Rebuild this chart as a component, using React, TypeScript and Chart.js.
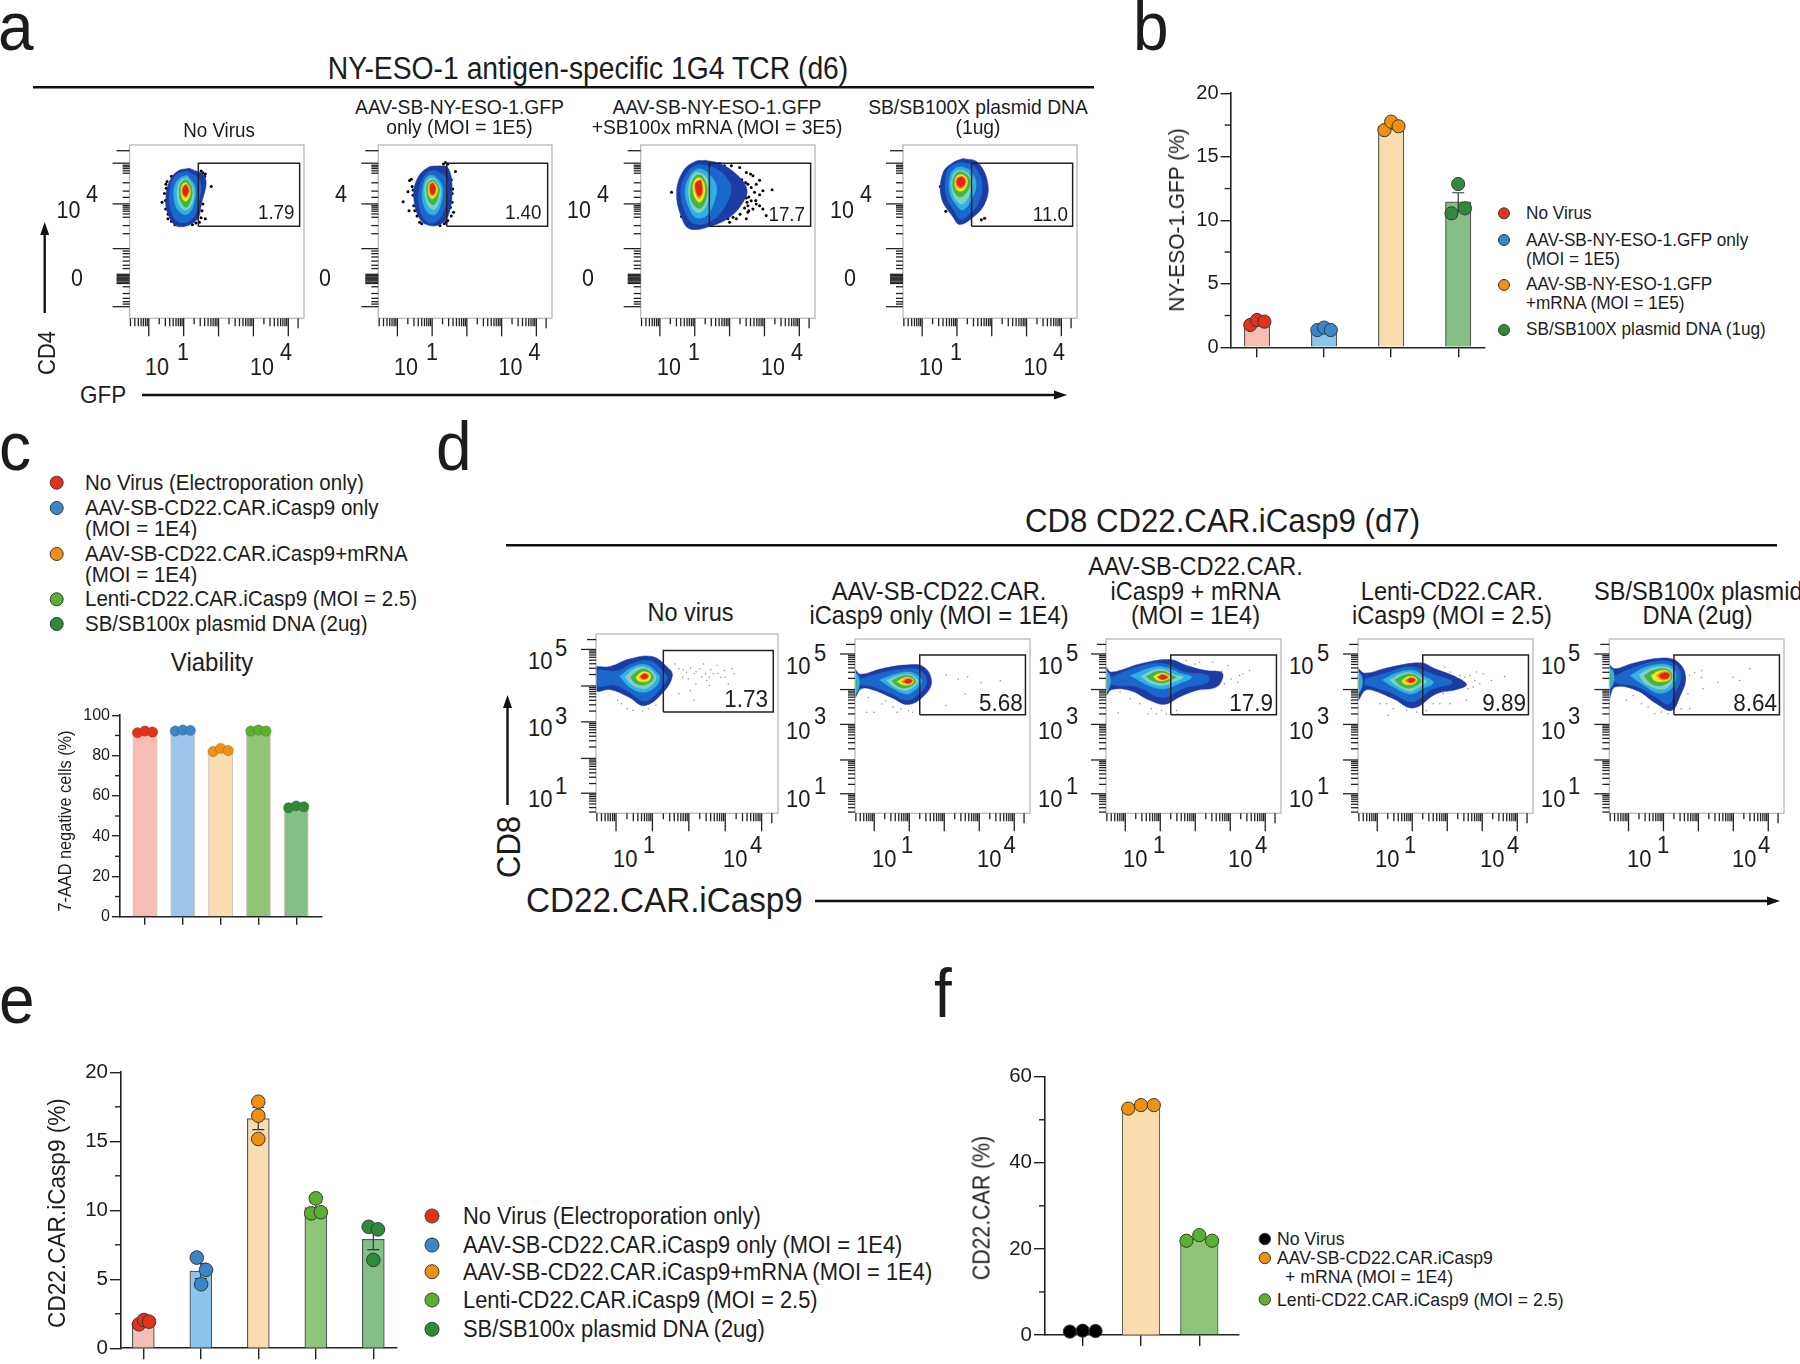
import React, { useEffect, useRef } from "react";
import { Chart, registerables } from "chart.js";
Chart.register(...registerables);

const FONT = '"Liberation Sans", Arial, sans-serif';
const INK = "#1c1c1c";

// ---------- flow-plot axis ticks (percent of the plot box) ----------
const xMajorTicks = [11, 31, 51, 71, 91];
const decadeOffsets = [-14, -10.5, -8, -6, -4.4, -3.1, -1.9, -0.9];
const xEndTick = [96.6];
const yMajorA = [89.5, 66, 40.2, 6.7];
const yMediumA = [96.7, 25.4, 24.7, 23.9, 23.3, 22.8, 22.2, 21.6, 20.8, 20.1];
const yMinorA = [88.3, 87.4, 86.4, 85.1, 83.7, 78.2, 73.4, 69.8, 65, 64.1, 63, 61.8, 60.2, 58.3, 53.5, 48.8, 38.8, 37.3, 35.4, 33, 30.6, 28.7, 18.2, 14.3, 11.5, 9.6, 8.2];
const yMajorD = [91.4, 71, 51, 30.6, 11.2];
const gateXA = [39.4, 97.5];
const gateXD = [37, 97.4];
const gateYA = [53.1, 89.5];
const gateYD = [56.5, 90.8];

const levelColors = ["#1d3ba4", "#1b68cc", "#2fb0e6", "#84d2bd", "#3fb54a", "#f7e917", "#f58a12", "#e4211c"];

// ---------- density outlines, outermost first (x,y pairs in percent of the plot) ----------
const contoursA1 = [
  [34.4,86.6,43.4,81.3,41.2,66,38.2,56.4,27.6,53,22,60.2,20.8,69.8,23,79.3,27.6,85],
  [33,85,40.5,79,39,65,35.5,57,28,55.5,23.5,63,23,73,26,82],
  [33,82.5,37.5,76,36.8,66,33,60,28,62,25.5,69,26,77,29,81],
  [33,81,36.5,75,36,67,32.5,62.5,29,64.5,27.2,71,28,77,30,80],
  [33,80,35.8,75,35,68,32.5,64,29.5,67,28.5,72,29,77,31,79.5],
  [32.5,78.5,34.8,74,34,69.5,32,67.5,30,70,29.5,74,30.5,77.5],
  [32.5,77.5,34.3,74,33.5,71,32,69.5,30.5,71,30,74,31,76.5],
  [32.5,77,33.7,74,33,71.5,32,70.5,30.8,72,30.5,74,31.3,76.2],
];
const contoursA2 = [
  [35.2,88,40,87,42.5,75.5,40.6,60.2,36.2,54.5,29.5,53.5,23.8,57.4,20.4,69.8,22.3,80.3,28.6,87],
  [33,85.5,39,81,39.5,72,37,60,32,55,27,56.5,23.5,65,24,76,28,84],
  [32,82.5,36.5,77,36.5,68,33,60,28.5,61,25.5,68,26,77,28.5,82],
  [32,81,35.5,76,35.5,69,32.5,63,29,64.5,27,70,27,77,29,80.5],
  [32,80,35,75.5,34.5,70,32,65.5,29.5,67,28,71.5,28,77,30,79.5],
  [31.5,79,34,75.5,33.5,71.5,31,69,29.2,71,28.8,75,29.5,78],
  [31.5,78.5,33.3,75.5,32.8,72,31,70.5,29.7,72,29.3,75.5,30,77.8],
  [31.5,78,32.8,75.5,32.3,72.5,31,71.5,30,73,29.8,76,30.3,77.5],
];
const contoursA3 = [
  [36.8,91.2,45.3,89.3,54.8,83.2,60.9,74.6,58.7,66.9,51,58.3,39.6,53,28.2,51.6,23.4,58.3,20.6,72.7,24.4,85,31,90.4],
  [36.5,88.5,44,86,50,80,52,74,48,64,40,56,31,54.5,26,60,23,73,26,83,31,88],
  [35.5,86,39.5,83,43.5,76,42,67,38,59.5,32,58,28,63,25.5,73,28,82,32,86],
  [35.5,83.5,38.5,80,39.5,75,38,66,34,61,30,63,27.5,72,28.5,80,31.5,84],
  [35,82.5,37.5,78,38,72,36,65,33,63.5,29.5,67,28.5,73,29.5,79,32,82.5],
  [34.5,81,36.5,77.5,36.5,71,34,67,31.5,69,30,74,30.5,78.5,32.5,81],
  [34.5,80,35.5,77,35.5,72,33.5,69,32,71,31,75,31.5,78.5],
  [34.5,79.5,35,76.5,35,72.5,33.5,70.5,32.3,72,31.5,75.5,32,78.5],
];
const contoursA4 = [
  [34.5,92.2,43,89.9,48.8,77.4,46.9,66,40.2,58.3,32.6,54.1,28.8,58.3,22,69.8,23,84,28.8,89.9],
  [34,90,41,87.5,45.5,77,43,66,38,60,33,57,29.5,62,25,70,25,84,29,88.5],
  [34,87.5,39,85,42,77,39,68,34.5,62.5,31,65,27,72,27,82,30,86.5],
  [34,85.5,38,83,40,77,37.5,70,34,66,30,69,28,75,28.5,82,31,85],
  [34,84.5,37.5,82,38.5,77.5,36,72,33,70,30,72,28.5,77,29.5,82,31.5,84.3],
  [34,83,36.5,81,37,78,35,74,32,73.5,30,76,30,80,31.5,82.5],
  [34,82,36,80.5,36,78,34.5,75.5,32,75,30.5,77,30.5,80,32,81.7],
  [34,81.5,35.5,80,35.5,78,34,76,32.5,76,31,78,31.3,80,32.5,81.3],
];
const contoursD1 = [
  [0,81.9,7.8,81.9,18.2,86,30.8,87.4,39.2,81.5,42,76.9,37,67.6,26.6,60,18,64.8,7.8,69,0,68.5],
  [1,80,12,79.5,20,83.5,30,85,37,79,39,75,34,68,27,62.5,19,67,10,71.5,1,71],
  [13,76.5,20,81.5,27,83,33,79,35,75,32,70,26,67.5,19,70],
  [16,76,21,80.5,27,81.5,32,78,33,75,30,71,26,69.5,20,71.5],
  [19,76,23,79.5,27,80.5,31,77.5,31.5,75,29,72.5,25,71.5,21,73],
  [22,76,25,78.7,28.5,78.5,30,76.5,29,74,26,73.3,23,74],
  [23.8,76.3,26,78,28.5,77.7,29,76,27,74.6,24.8,74.8],
  [24.5,76.4,26.5,77.7,28.3,77,28.2,75.7,26,75],
];
const contoursD2 = [
  [0,82.7,3.3,79.8,15.3,83,30.6,85.2,39.3,84,43.7,76,40.4,68.4,30.6,62.4,20.7,66.5,8.7,71.3,3.3,71.3,0,66.5],
  [3,77,15,80.5,30,83,37,82,41,76,38,70,30,65,20,69,10,72.8,3,74],
  [14,76.5,22,79.5,31,81,37,78,38,75,34,70.5,29,68.5,21,72],
  [18,76.3,25,79,31,79.8,35,77.5,36,75,32,71.5,28,70.5,22,72.8],
  [21,76,26,78.5,31,79,34,77,34.5,75,31,72.5,27,72,23.5,73.5],
  [24,75.5,28,77.7,31.5,77.8,33.5,76,32,74,28,73.6],
  [26.5,75.5,29,77.3,32,77.2,33,75.7,31,74.3,28,74.4],
  [28,75.6,30,77,32.3,76.5,32.3,75.3,30,74.6],
];
const contoursD3 = [
  [0,83.8,3.2,81,19.4,85.7,36.4,88.2,46,84.8,57.3,81.9,65.8,81,66.8,78,63,72.4,51.6,70.5,42,66.7,33.6,62.5,25,64.8,13.7,70.5,3.2,71,0,67.6],
  [3,78,15,83,32,86,45,81,58,79,58,75,45,72,32,66.5,18,72.5,3,74],
  [14,79,24,83,33,84,42,80.5,49,78,42,74.5,33,71.5,24,73.5],
  [20,78.5,27,82,33,82.5,39,79.5,44,78,39,75.5,33,73.5,26,74.5],
  [23,78.5,28,81,33,81.5,37,79.5,40,78,37,76.5,33,74.8,27,75.8],
  [27,78.3,30,80,33,80.3,36,79,37,78,35.5,77,32,76,29,76.6],
  [29,78.2,32,79.6,35,79,36,78,34,77,31,76.8],
  [29.8,78.1,32,79.4,34.8,78.5,34.8,77.6,32,76.9],
];
const contoursD4 = [
  [0,83.2,4,80.4,18.3,83.8,36.3,86.3,44,82.9,54.3,79,62,73.9,56.3,71,44.9,68.6,31.6,60.4,20.2,65.7,8.7,70.5,4,70.5,0,65],
  [4,77,16,80.5,30,84,42,80,54,75,42,71,31,64,19,69,8,72.7,4,74],
  [14,76.5,22,80.5,31,82,38,78.5,43,75,37,71.5,30,68.5,21,72],
  [18,76.5,25,80,31,80.5,36,78,39,75.3,34,72,30,70,23,72.8],
  [21,76.5,26,79.3,31,79.8,35,77.5,36,75.5,33,73,29,71.8,24,73.5],
  [25,76,28,78.2,31.5,78.5,33.7,76.8,32,74.5,29,73.8,26,74.5],
  [26.7,76.3,29.5,77.7,32.5,77.5,33,76,31,74.8,28,75],
  [28,76.3,30.3,77.5,32.5,76.8,32,75.5,29.5,75.2],
];
const contoursD5 = [
  [0,85.3,3.2,82.9,13.7,86.1,30.8,89.1,39.4,86.7,43.7,78.1,40.3,66.7,35.6,59,27,62.9,15.6,70.5,3.2,72.4,0,65.7],
  [3.5,79,15,84,30,87.5,38,85,41,78,37,68,34,62.5,27,66.5,15,73,3.5,75],
  [12,79,20,83.5,31,85.5,37,83,38,77,35,71,28,69,19,74],
  [17,79.5,23,83,32,84,36,82,36.5,77,33,72,27,71.5,20,75],
  [20,79,25,82,32,83,35.5,80.5,35.5,77,31,73.5,26,73.5,22,76],
  [24,79,28,81.5,33,81.8,35,79.5,34,76.5,29,75.5,25.5,76.5],
  [27,79,30,81,34,81,34.8,78.8,33,76.8,29.5,76.7],
  [28.5,79,31,80.5,34,80,34,78,31.5,77.2,29.5,77.7],
];
// small lobes at the left edge of the d plots: [level, outline]
const tailD2: any[] = [[2,[0,81,2.2,78,2.2,72,0,68.5]],[4,[0,78,1,76,1,73,0,71]]];
const tailD3: any[] = [[2,[0,82,2.2,79,2.2,73,0,69.5]],[4,[0,79,1,77,1,74,0,72]]];
const tailD4: any[] = [[2,[0,81.5,2.2,78.5,2.2,72.5,0,69]],[4,[0,78.5,1,76.5,1,73.5,0,71.5]]];
const tailD5: any[] = [[2,[0,84,2.4,81,2.4,75,0,71.5]],[4,[0,81,1.2,79,1.2,76,0,74]]];

// ---------- single events outside the density outlines ----------
const eventsA1 = [46.8,76.1,43.4,57.4,40,55.4,22,57.4,18.6,66.9,20.8,77.4,43.4,83.2,41,85,22,60,20.7,63,20.5,68,20,72,21,75,21.5,79,24,82,42,84,43,82,42,79,42,66,41.5,62,41,58,24,56,26,54,38,55,36,54];
const eventsA2 = [14.3,67.3,17.7,62.1,17.1,73,19,80.3,18,79.5,20,74,20.4,65,22.3,59,23.8,55.4,38.6,89.9,37.5,89,40,89,44.4,84.7,42.9,74.6,42.5,67,43.3,61.2,42,59,40,56.4,39,55.5,38,54.5,35.5,53.5,25,54.5,19.5,76,20,71,21,62,42,80,42.5,72,41.5,64];
const eventsA3 = [17.7,72.7,45.3,89.3,52,88,56.8,87,60.6,84.1,63,83.2,64.4,82.2,68.2,79.7,60.2,78.4,61.5,77.4,66.3,77.4,63.4,75.5,65.3,72.7,70.1,73.6,75.4,74.2,68.2,71.3,60.6,69.4,63.4,67.9,66.3,66,61.5,65,59.6,63.7,64.4,63.1,68.2,65,70.1,63.1,72,59.3,61.5,61.2,53,58.3,54.9,57.4,50,57.4,60.6,57.4,51,55.4,23.4,58.7,62,70,61,67,58,80,50,86,48,88,62,62,57,60,66,68];
const eventsA4 = [24.6,61.8,45,56.8,46.9,57.8,21.5,76];
const eventsD1 = [43.4,83.3,45.5,80.6,49.7,78.7,53.9,77.8,57,80.6,60.2,77.8,62.3,75.9,66.5,82.4,70.6,79.6,74.8,80.6,75.9,77.8,45.5,66.7,51.8,68.5,53.9,63,59.1,83.3,64.4,77.8,68.6,75.9,72.7,72.2,62.3,71.3,54.9,72.2,47.6,75.9,50.7,75,14,61.1,17.2,58.3,20.3,57.4,25.6,57,28.7,58.3,11.9,63,32.9,60.2,55,79,58,76,63,80,67,78,71,76,48,80,52,81,61,74];
const eventsD2 = [52,79.3,59,77,64.4,78.3,72,75,83,76,52,61.8,63,68.4,6.6,58,10.9,58,15.3,62.7,21.8,60.8,26.2,59.9,30.6,58.9,32.8,58,7.6,66.5,17.5,64.6,24,58];
const eventsD3 = [69.6,84.8,71.5,77.1,75.3,75.2,78.2,80,82,81.9,66,81.5,67.7,74.3,76.3,79,61,86.7,53.5,86.7,46,87.6,50.7,85.7,7,57.5,24,57,26,60,28.8,57,31.7,59,34.5,57,40.2,59,13.7,65.7,8,69.5,19.4,62.9,41,57];
const eventsD4 = [49.6,83.8,52.5,81,58.2,79,61,78,63.9,79,66.7,76.2,71.5,80,76.2,76.2,83.8,78.5,65.8,72.4,62.9,71.4,67.7,81,69.6,74.3,48.7,68.6,52.5,62.9,62,64.8,46.8,62.9,12.5,62.9,17.3,56.2,20.2,60,27.8,59,33.5,58.1,39.2,59,43,62.9,16.3,62.9];
const eventsD5 = [46,79,48.9,80.6,52.7,81.9,52.7,77.9,53.6,71.4,62.2,75.2,70.8,78.1,74.6,76.2,80.3,82.9,46,60,41.2,60,45,68.6,9.9,64.8,18.4,62.9,26,57.1,29.8,58.1,33.7,57.1,22.2,61,13.7,67.6];

// ---------- plot boxes: left, top, right, bottom ----------
const boxesA = [[129.6,143.3,304.4,318.3],[378.3,143.3,552.6,318.3],[640.7,143.3,815.7,318.3],[903,143.3,1078,318.3]];
const boxesD = [[596,632.5,778.5,813.3],[855,637.5,1030.3,813.3],[1106,637.5,1281.7,813.3],[1358,637.5,1533.3,813.3],[1609.3,637.5,1784.7,813.3]];
const contoursAll = [contoursA1, contoursA2, contoursA3, contoursA4];
const contoursDAll = [contoursD1, contoursD2, contoursD3, contoursD4, contoursD5];
const eventsAAll = [eventsA1, eventsA2, eventsA3, eventsA4];
const eventsDAll = [eventsD1, eventsD2, eventsD3, eventsD4, eventsD5];
const tailsDAll: any[][] = [[], tailD2, tailD3, tailD4, tailD5];

// ---------- bar panels ----------
const RED = "#e5311b", BLUE = "#3b86c9", ORANGE = "#f0900f", LIME = "#5bb02f", DARK = "#2f8a3a", BLACK = "#000000";
const PINK_BAR = "#f5bdb3", BLUE_BAR = "#8cc5ec", PEACH_BAR = "#f9dcb0", LIME_BAR = "#8dc678", DARK_BAR = "#84bf86", GREEN_BAR_B = "#85bf84";

const bMeans = [1.93, 1.4, 17.4, 11.45];
const bSem = [0.11, 0.1, 0.2, 0.72];
const bDots = [[1.76, 2.15, 2.02], [1.36, 1.55, 1.36], [17.1, 17.77, 17.4], [12.86, 10.55, 10.94]];
const bOffsets = [[-0.1, 0, 0.11], [-0.1, 0, 0.1], [-0.1, 0, 0.11], [0, -0.1, 0.1]];

const cMeans = [91.8, 92.5, 82.8, 92.4, 54.6];
const cDots = [[91.4, 92.2, 91.7], [92.2, 92.7, 92.5], [82, 83.6, 82.5], [92.2, 92.7, 92.2], [54.1, 55, 54.6]];
const cOffsets = [[-0.2, 0, 0.2], [-0.2, 0, 0.2], [-0.2, 0, 0.2], [-0.2, 0, 0.2], [-0.2, 0, 0.2]];

const eMeans = [1.8, 5.6, 16.65, 10.2, 7.9];
const eSem = [0.1, 0.55, 0.8, 0.35, 0.75];
const eDots = [[1.74, 2.05, 1.93], [6.57, 5.68, 4.64], [17.87, 16.86, 15.17], [10.87, 9.78, 9.86], [8.8, 8.62, 6.4]];
const eOffsets = [[-0.075, 0.012, 0.1], [-0.07, 0.09, 0.006], [0, 0, 0], [0, -0.08, 0.087], [-0.08, 0.08, 0]];

const fMeans = [0.9, 53, 22.3];
const fDots = [[0.8, 1, 0.93], [52.6, 53.4, 53.4], [21.9, 23.2, 21.9]];
const fOffsets = [[-0.22, 0, 0.22], [-0.22, 0, 0.22], [-0.22, 0, 0.22]];

const barPanels: any[] = [
  { means: bMeans, sem: bSem, dots: bDots, off: bOffsets, left: 1230.6, right: 1485, top: 93.3, bottom: 347.3, cat1: 1257, step: 67.07, barW: 25.5, max: 20, major: 5, minor: [2.5, 7.5, 12.5, 17.5], r: 6.6, fs: 20, tick: 10, minorLen: 6,
    fill: [PINK_BAR, BLUE_BAR, PEACH_BAR, GREEN_BAR_B], dot: [RED, BLUE, ORANGE, DARK], barBorder: "#555", dotBorder: "#3a3a3a", dotW: 1 },
  { means: cMeans, dots: cDots, off: cOffsets, left: 120, right: 321.7, top: 715.3, bottom: 916.7, cat1: 145, step: 37.8, barW: 24.3, max: 100, major: 20, minor: [10, 30, 50, 70, 90], r: 5.2, fs: 16, tick: 8, minorLen: 5,
    fill: [PINK_BAR, "#9cc6ea", PEACH_BAR, "#90c577", DARK_BAR], dot: [RED, BLUE, ORANGE, LIME, DARK], barBorder: "#cfc9c0", dotBorder: "rgba(60,60,60,0.35)", dotW: 0.7 },
  { means: eMeans, sem: eSem, dots: eDots, off: eOffsets, left: 121, right: 396.7, top: 1072.3, bottom: 1348.3, cat1: 143.3, step: 57.5, barW: 22, max: 20, major: 5, minor: [2.5, 7.5, 12.5, 17.5], r: 6.8, fs: 20.5, tick: 11, minorLen: 6,
    fill: [PINK_BAR, BLUE_BAR, PEACH_BAR, LIME_BAR, DARK_BAR], dot: [RED, BLUE, ORANGE, LIME, DARK], barBorder: "#555", dotBorder: "#3a3a3a", dotW: 1 },
  { means: fMeans, dots: fDots, off: fOffsets, left: 1045, right: 1238.3, top: 1076.7, bottom: 1335, cat1: 1082.7, step: 58.3, barW: 37.7, max: 60, major: 20, minor: [10, 30, 50], r: 6.6, fs: 20.5, tick: 11, minorLen: 6,
    fill: ["#000000", PEACH_BAR, LIME_BAR], dot: [BLACK, ORANGE, LIME], barBorder: "#666", dotBorder: "#3a3a3a", dotW: 1 },
];

// ---------- text ----------
type L = [number, number, string, number, string?, string?];
// x, y-centre, text, size, align, colour
const labels: L[] = [
  [-2, 27, "a", 64], [1133, 27, "b", 64], [-1, 447, "c", 64], [436, 447, "d", 64], [-1, 1000, "e", 64], [934, 994, "f", 64],
  [588, 68, "NY-ESO-1 antigen-specific 1G4 TCR (d6)", 28.3, "c"],
  [219, 131, "No Virus", 18.8, "c"],
  [459.5, 107.7, "AAV-SB-NY-ESO-1.GFP", 19.3, "c"], [459.5, 127.7, "only (MOI = 1E5)", 19.3, "c"],
  [717, 107.7, "AAV-SB-NY-ESO-1.GFP", 19.3, "c"], [717, 127.7, "+SB100x mRNA (MOI = 3E5)", 19.3, "c"],
  [978, 107.7, "SB/SB100X plasmid DNA", 19.3, "c"], [978, 127.7, "(1ug)", 19.3, "c"],
  [294.5, 213.3, "1.79", 18.8, "r"], [541.5, 213.3, "1.40", 18.8, "r"], [805, 214.5, "17.7", 18.8, "r"], [1068, 214.5, "11.0", 18.8, "r"],
  [80, 395, "GFP", 22.5],
  [56.5, 210, "10", 21.5], [86, 194, "4", 21.5], [71, 278, "0", 21.5],
  [335, 194, "4", 21.5], [319, 278, "0", 21.5],
  [567, 210, "10", 21.5], [597, 194, "4", 21.5], [582, 278, "0", 21.5],
  [830, 210, "10", 21.5], [860, 194, "4", 21.5], [844, 278, "0", 21.5],
  [1222.5, 521, "CD8 CD22.CAR.iCasp9 (d7)", 31.2, "c"],
  [690.5, 612.7, "No virus", 23.5, "c"],
  [939, 591.7, "AAV-SB-CD22.CAR.", 23.6, "c"], [939, 616, "iCasp9 only (MOI = 1E4)", 23.6, "c"],
  [1195.5, 566.7, "AAV-SB-CD22.CAR.", 23.6, "c"], [1195.5, 591.7, "iCasp9 + mRNA", 23.6, "c"], [1195.5, 616, "(MOI = 1E4)", 23.6, "c"],
  [1452, 591.7, "Lenti-CD22.CAR.", 23.6, "c"], [1452, 616, "iCasp9 (MOI = 2.5)", 23.6, "c"],
  [1594, 591.7, "SB/SB100x plasmid", 23.6], [1697.5, 616, "DNA (2ug)", 23.6, "c"],
  [768, 699, "1.73", 22.5, "r"], [1022.7, 703, "5.68", 22.5, "r"], [1273, 703, "17.9", 22.5, "r"], [1526, 703, "9.89", 22.5, "r"], [1777, 703, "8.64", 22.5, "r"],
  [526, 900, "CD22.CAR.iCasp9", 33.2],
  [212, 661.7, "Viability", 24, "c"],
  // legend b
  [1526, 214, "No Virus", 17.2], [1526, 240.7, "AAV-SB-NY-ESO-1.GFP only", 17.2], [1526, 259.7, "(MOI = 1E5)", 17.2], [1526, 284.7, "AAV-SB-NY-ESO-1.GFP", 17.2], [1526, 303.7, "+mRNA (MOI = 1E5)", 17.2], [1526, 330, "SB/SB100X plasmid DNA (1ug)", 17.2],
  // legend c
  [85, 481.7, "No Virus (Electroporation only)", 20.5], [85, 507, "AAV-SB-CD22.CAR.iCasp9 only", 20.5], [85, 527.7, "(MOI = 1E4)", 20.5], [85, 553, "AAV-SB-CD22.CAR.iCasp9+mRNA", 20.5], [85, 573.7, "(MOI = 1E4)", 20.5], [85, 598.3, "Lenti-CD22.CAR.iCasp9 (MOI = 2.5)", 20.5], [85, 623, "SB/SB100x plasmid DNA (2ug)", 20.5],
  // legend e
  [463, 1216, "No Virus (Electroporation only)", 21.9], [463, 1244.5, "AAV-SB-CD22.CAR.iCasp9 only (MOI = 1E4)", 21.9], [463, 1271.2, "AAV-SB-CD22.CAR.iCasp9+mRNA (MOI = 1E4)", 21.9], [463, 1299.5, "Lenti-CD22.CAR.iCasp9 (MOI = 2.5)", 21.9], [463, 1328.5, "SB/SB100x plasmid DNA (2ug)", 21.9],
  // legend f
  [1277, 1239, "No Virus", 17.7], [1277, 1258.3, "AAV-SB-CD22.CAR.iCasp9", 17.7], [1285, 1276.7, "+ mRNA (MOI = 1E4)", 17.7], [1277, 1300, "Lenti-CD22.CAR.iCasp9 (MOI = 2.5)", 17.7],
];
// x, y-centre, text, size
const rotated: [number, number, string, number][] = [
  [46.6, 353, "CD4", 22], [1176, 220, "NY-ESO-1.GFP (%)", 20.9], [65, 821, "7-AAD negative cells (%)", 16.3],
  [508.7, 846.7, "CD8", 31], [56.7, 1212.5, "CD22.CAR.iCasp9 (%)", 22.6], [981.7, 1207.5, "CD22.CAR (%)", 21.3],
];
// x-axis decade labels: "10" left, superscript left, superscript
const xDecadesA = [[145, 177, "1"], [250, 280, "4"], [394, 426, "1"], [498.5, 528.5, "4"], [657, 688, "1"], [761, 791, "4"], [919, 950, "1"], [1023.5, 1053, "4"]];
const xDecadesD = [[613, 643, "1"], [723, 750, "4"], [872, 901, "1"], [977, 1003.5, "4"], [1123, 1153, "1"], [1228, 1255, "4"], [1375, 1404, "1"], [1480, 1507, "4"], [1627, 1657, "1"], [1732, 1758, "4"]];
// y-axis decade labels of panel d: "10" left, superscript left
const yDecadesD = [[528, 555], [786, 814], [1038, 1066], [1289, 1317], [1541, 1568]];
const yRowsD = [[666, 653, "5"], [731, 716, "3"], [799, 786, "1"]];
// legend markers: x, y, r, colour
const legendDots: [number, number, number, string][] = [
  [1504, 213.3, 5.5, RED], [1504, 240, 5.5, BLUE], [1504, 285, 5.5, ORANGE], [1504, 330, 5.5, DARK],
  [56.7, 482.7, 6.5, RED], [56.7, 508, 6.5, BLUE], [56.7, 554, 6.5, ORANGE], [56.7, 599.3, 6.5, LIME], [56.7, 624, 6.5, DARK],
  [432, 1216, 7, RED], [432, 1245, 7, BLUE], [432, 1271.7, 7, ORANGE], [432, 1300, 7, LIME], [432, 1329.3, 7, DARK],
  [1264.8, 1239, 5.7, BLACK], [1264.8, 1258, 5.7, ORANGE], [1264.8, 1299.5, 5.7, LIME],
];

const pairs = (flat: number[]) => {
  const out: { x: number; y: number }[] = [];
  for (let i = 0; i < flat.length; i += 2) out.push({ x: flat[i], y: flat[i + 1] });
  return out;
};
const closed = (flat: number[]) => {
  const p = pairs(flat);
  p.push({ ...p[0] });
  return p;
};

function makeFlow(canvas: HTMLCanvasElement, box: number[], contours: number[][], tails: any[], events: number[], gateX: number[], gateY: number[], kind: "a" | "d") {
  const padL = box[0] - Math.floor(box[0] - 24);
  const padT = box[1] - Math.floor(box[1] - 2);
  const ds: any[] = [];
  const dotStyle = kind === "a" ? { r: 1.5, c: "#000" } : { r: 0.75, c: "#8a8a8a" };
  ds.push({ data: pairs(events), showLine: false, pointRadius: dotStyle.r, pointBackgroundColor: dotStyle.c, pointBorderWidth: 0 });
  contours.forEach((c, i) => ds.push({ data: closed(c), showLine: true, fill: "shape", tension: 0.4, backgroundColor: levelColors[i], borderColor: levelColors[i], borderWidth: 0.5, pointRadius: 0 }));
  tails.forEach((t) => ds.push({ data: closed(t[1]), showLine: true, fill: "shape", tension: 0.4, backgroundColor: levelColors[t[0]], borderColor: levelColors[t[0]], borderWidth: 0.5, pointRadius: 0 }));
  ds.push({
    data: [{ x: gateX[0], y: gateY[0] }, { x: gateX[1], y: gateY[0] }, { x: gateX[1], y: gateY[1] }, { x: gateX[0], y: gateY[1] }, { x: gateX[0], y: gateY[0] }],
    showLine: true, fill: false, tension: 0, borderColor: "#222", borderWidth: 1.5, pointRadius: 0,
  });
  ds.forEach((d, i) => (d.order = -i));
  const axisPlugin = {
    id: "flowAxes",
    afterDatasetsDraw(chart: any) {
      const { ctx, chartArea: a, scales } = chart;
      ctx.save();
      ctx.strokeStyle = "#b9b9b9";
      ctx.lineWidth = 1.3;
      ctx.strokeRect(a.left, a.top, a.right - a.left, a.bottom - a.top);
      ctx.strokeStyle = "#222";
      ctx.lineWidth = 1.3;
      const xt = (v: number, l: number) => {
        if (v < 0) return;
        const p = scales.x.getPixelForValue(v);
        ctx.beginPath(); ctx.moveTo(p, a.bottom); ctx.lineTo(p, a.bottom + l); ctx.stroke();
      };
      const yt = (v: number, l: number) => {
        if (v < 0) return;
        const p = scales.y.getPixelForValue(v);
        ctx.beginPath(); ctx.moveTo(a.left, p); ctx.lineTo(a.left - l, p); ctx.stroke();
      };
      xMajorTicks.forEach((m) => { xt(m, 18); decadeOffsets.forEach((o, i) => xt(m + o, i === 0 ? 6 : 8)); });
      xEndTick.forEach((m) => xt(m, 10));
      if (kind === "a") {
        yMajorA.forEach((m) => yt(m, 17));
        yMediumA.forEach((m) => yt(m, 13));
        yMinorA.forEach((m) => yt(m, 7));
      } else {
        yMajorD.forEach((m) => { yt(m, 15); decadeOffsets.forEach((o) => yt(m + o, 7)); });
        yt(96.9, 9);
      }
      ctx.restore();
    },
  };
  return new Chart(canvas, {
    type: "scatter",
    data: { datasets: ds },
    options: {
      responsive: false, animation: false, events: [],
      layout: { padding: { left: padL, top: padT, right: canvas.width - padL - (box[2] - box[0]), bottom: canvas.height - padT - (box[3] - box[1]) } },
      plugins: { legend: { display: false }, tooltip: { enabled: false } },
      scales: { x: { type: "linear", min: 0, max: 100, display: false }, y: { type: "linear", min: 0, max: 100, display: false } },
    },
    plugins: [axisPlugin],
  } as any);
}

function makeBar(canvas: HTMLCanvasElement, p: any, originX: number, originY: number) {
  const axisW = p.left - originX;
  const padT = p.top - originY;
  let xHeight = canvas.height - padT - (p.bottom - p.top);
  const barData = p.means.map((m: number, i: number) => ({ x: i + 1, y: m }));
  const dotData: any[] = [];
  const dotFill: string[] = [];
  p.dots.forEach((row: number[], i: number) => row.forEach((v, j) => {
    dotData.push({ x: i + 1 + p.off[i][j], y: v });
    dotFill.push(p.dot[i]);
  }));
  const helper = {
    id: "barExtras",
    afterDatasetDraw(chart: any, args: any) {
      if (args.index !== 0) return;
      const { ctx, scales } = chart;
      ctx.save();
      ctx.strokeStyle = "#333";
      ctx.lineWidth = 1.2;
      (p.sem || []).forEach((s: number, i: number) => {
        const x = scales.x.getPixelForValue(i + 1);
        const y1 = scales.y.getPixelForValue(p.means[i] + s);
        const y2 = scales.y.getPixelForValue(p.means[i] - s);
        ctx.beginPath();
        ctx.moveTo(x, y1); ctx.lineTo(x, y2);
        ctx.moveTo(x - 6, y1); ctx.lineTo(x + 6, y1);
        ctx.moveTo(x - 6, y2); ctx.lineTo(x + 6, y2);
        ctx.stroke();
      });
      ctx.restore();
    },
    afterDatasetsDraw(chart: any) {
      const { ctx, scales, chartArea: a } = chart;
      ctx.save();
      ctx.strokeStyle = "#222";
      ctx.lineWidth = 1.4;
      p.minor.forEach((v: number) => {
        const y = scales.y.getPixelForValue(v);
        ctx.beginPath(); ctx.moveTo(a.left, y); ctx.lineTo(a.left - p.minorLen, y); ctx.stroke();
      });
      ctx.restore();
    },
  };
  const chart: any = new Chart(canvas, {
    type: "bar",
    data: {
      datasets: [
        { type: "bar", data: barData, backgroundColor: p.fill, borderColor: p.barBorder, borderWidth: 1.2, barThickness: p.barW, order: 2 },
        { type: "scatter", data: dotData, showLine: false, pointRadius: p.r, pointBackgroundColor: dotFill, pointBorderColor: p.dotBorder, pointBorderWidth: p.dotW, clip: false, order: 1 },
      ],
    },
    options: {
      responsive: false, animation: false, events: [],
      layout: { padding: { left: 0, top: padT, right: canvas.width - axisW - (p.right - p.left), bottom: 0 } },
      plugins: { legend: { display: false }, tooltip: { enabled: false } },
      scales: {
        x: {
          type: "linear",
          offset: false,
          min: 1 - (p.cat1 - p.left) / p.step,
          max: 1 + (p.right - p.cat1) / p.step,
          afterBuildTicks: (s: any) => { s.ticks = p.means.map((_: number, i: number) => ({ value: i + 1 })); },
          afterFit: (s: any) => { s.height = xHeight; },
          ticks: { callback: () => "", autoSkip: false, maxRotation: 0, padding: 0 },
          grid: { offset: false, drawOnChartArea: false, tickLength: p.tick, color: "#222", lineWidth: 1.4 },
          border: { color: "#222", width: 1.6 },
        },
        y: {
          type: "linear", min: 0, max: p.max,
          afterFit: (s: any) => { s.width = axisW; },
          ticks: { stepSize: p.major, color: INK, font: { family: FONT, size: p.fs }, padding: 2 },
          grid: { drawOnChartArea: false, tickLength: p.tick, color: "#222", lineWidth: 1.4 },
          border: { color: "#222", width: 1.6 },
        },
      },
    },
    plugins: [helper],
  } as any);
  // the layout pass can shift the plot edges slightly: true them up to the intended box
  const a = chart.chartArea;
  const pad = chart.options.layout.padding;
  pad.right = Math.max(0, pad.right + ((a.right + originX) - p.right));
  pad.top = Math.max(0, pad.top + (p.top - (a.top + originY)));
  xHeight = Math.max(0, xHeight + ((a.bottom + originY) - p.bottom));
  chart.update();
  return chart;
}

const TEXT_STRETCH = 1.08;

function Label({ x, y, s, size, align, color }: any) {
  const tx = align === "c" ? "translateX(-50%) " : align === "r" ? "translateX(-100%) " : "";
  return (
    <div style={{ position: "absolute", left: x, top: y - 0.576 * size, fontSize: size, lineHeight: `${size * 1.149}px`, whiteSpace: "nowrap", color: color || INK, transform: `${tx}scaleY(${TEXT_STRETCH})` }}>
      {s}
    </div>
  );
}

const arrows = [
  // x1,y1,x2,y2
  [44.7, 313, 44.7, 222],
  [142, 395, 1067, 395],
  [507.5, 805, 507.5, 695],
  [815, 901, 1780, 901],
];
const rules = [[33, 87.3, 1094, 87.3], [506, 545.3, 1777, 545.3]];

const barFrame = (p: any) => {
  const l = Math.floor(p.left - 70), t = Math.floor(p.top - 16);
  return { l, t, w: Math.ceil(p.right + 10) - l, h: Math.ceil(p.bottom + 22) - t };
};

export default function App() {
  const aRefs = useRef<(HTMLCanvasElement | null)[]>([]);
  const dRefs = useRef<(HTMLCanvasElement | null)[]>([]);
  const barRefs = useRef<(HTMLCanvasElement | null)[]>([]);
  useEffect(() => {
    const charts: Chart[] = [];
    boxesA.forEach((b, i) => charts.push(makeFlow(aRefs.current[i]!, b, contoursAll[i], [], eventsAAll[i], gateXA, gateYA, "a")));
    boxesD.forEach((b, i) => charts.push(makeFlow(dRefs.current[i]!, b, contoursDAll[i], tailsDAll[i], eventsDAll[i], gateXD, gateYD, "d")));
    barPanels.forEach((p, i) => {
      const f = barFrame(p);
      charts.push(makeBar(barRefs.current[i]!, p, f.l, f.t));
    });
    return () => charts.forEach((c) => c.destroy());
  }, []);
  const flowCanvas = (b: number[], i: number, refs: any) => {
    const l = Math.floor(b[0] - 24), t = Math.floor(b[1] - 2);
    const w = Math.ceil(b[2] + 3) - l, h = Math.ceil(b[3] + 24) - t;
    return <canvas key={i} ref={(el) => { refs.current[i] = el; }} width={w} height={h} style={{ position: "absolute", left: l, top: t, width: w, height: h }} />;
  };
  return (
    <div style={{ position: "absolute", left: 0, top: 0, width: 1800, height: 1364, overflow: "hidden", background: "#fff", fontFamily: FONT, filter: "blur(0.35px)" }}>
      <svg width={1800} height={1364} style={{ position: "absolute", left: 0, top: 0 }}>
        {rules.map((r, i) => <line key={i} x1={r[0]} y1={r[1]} x2={r[2]} y2={r[3]} stroke="#111" strokeWidth={2.6} />)}
        {arrows.map((a, i) => {
          const vertical = a[0] === a[2];
          const head = vertical
            ? `${a[2]},${a[3]} ${a[2] - 4.5},${a[3] + 13} ${a[2] + 4.5},${a[3] + 13}`
            : `${a[2]},${a[3]} ${a[2] - 13},${a[3] - 4.5} ${a[2] - 13},${a[3] + 4.5}`;
          return (
            <g key={i}>
              <line x1={a[0]} y1={a[1]} x2={vertical ? a[2] : a[2] - 8} y2={vertical ? a[3] + 8 : a[3]} stroke="#111" strokeWidth={2.4} />
              <polygon points={head} fill="#111" />
            </g>
          );
        })}
        {legendDots.map((d, i) => <circle key={i} cx={d[0]} cy={d[1]} r={d[2]} fill={d[3]} stroke="#3a3a3a" strokeWidth={1} />)}
      </svg>
      {boxesA.map((b, i) => flowCanvas(b, i, aRefs))}
      {boxesD.map((b, i) => flowCanvas(b, i, dRefs))}
      {barPanels.map((p, i) => {
        const f = barFrame(p);
        return <canvas key={i} ref={(el) => { barRefs.current[i] = el; }} width={f.w} height={f.h} style={{ position: "absolute", left: f.l, top: f.t, width: f.w, height: f.h }} />;
      })}
      {labels.map((t, i) => <Label key={i} x={t[0]} y={t[1]} s={t[2]} size={t[3]} align={t[4]} color={t[5]} />)}
      {rotated.map((t, i) => (
        <div key={i} style={{ position: "absolute", left: t[0], top: t[1], fontSize: t[3], whiteSpace: "nowrap", color: INK, transform: `translate(-50%,-50%) rotate(-90deg) scaleY(${TEXT_STRETCH})` }}>{t[2]}</div>
      ))}
      {xDecadesA.map((d, i) => (
        <React.Fragment key={i}>
          <Label x={d[0]} y={367} s="10" size={21.5} />
          <Label x={d[1]} y={352} s={d[2]} size={21.5} />
        </React.Fragment>
      ))}
      {xDecadesD.map((d, i) => (
        <React.Fragment key={i}>
          <Label x={d[0]} y={859} s="10" size={22} />
          <Label x={d[1]} y={845} s={d[2]} size={22} />
        </React.Fragment>
      ))}
      {yDecadesD.map((c, i) => yRowsD.map((r, j) => (
        <React.Fragment key={`${i}-${j}`}>
          <Label x={c[0]} y={i === 0 ? (r[0] as number) - (j === 0 ? 5 : j === 1 ? 3 : 0) : r[0]} s="10" size={22} />
          <Label x={c[1]} y={i === 0 ? (r[1] as number) - (j === 0 ? 5 : 0) : r[1]} s={r[2]} size={22} />
        </React.Fragment>
      )))}
    </div>
  );
}
